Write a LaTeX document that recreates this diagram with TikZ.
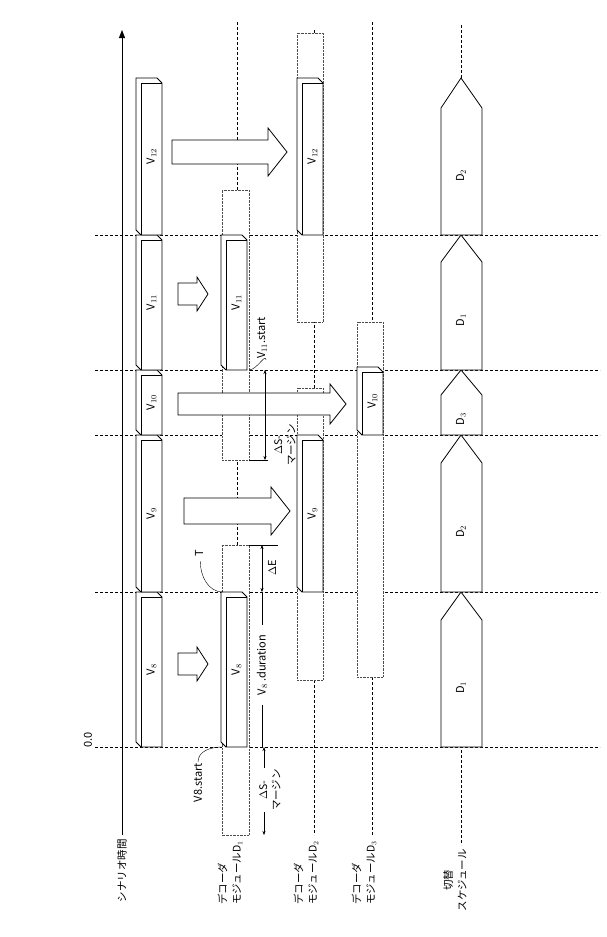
\documentclass[tikz,border=0pt]{standalone}
\usepackage{fontspec}
\setmainfont{Noto Sans CJK JP}
\usetikzlibrary{arrows.meta,positioning}
% bevelled bars: x, top, bottom, label
\newcommand\vbar[4]{%
	\draw[bar] (#1+5,#3) -- (#1,#3-5) -- (#1,#2) -- (#1+21,#2) -- (#1+26,#2+5) -- (#1+26,#3) -- cycle;
	\draw[thick] (#1+5,#3) -- (#1+5,#2+5) -- (#1+26,#2+5);
	\node[rotate=90] at (#1+15.5,{(#2+#3)/2}) {#4};}
% switching schedule: tip, bottom, shoulder, label
\newcommand\sched[4]{%
	\draw[thick,fill=white] (441,#2) -- (441,#3) -- (461,#1) -- (482,#3) -- (482,#2) -- cycle;
	\node[rotate=90] at (461,{(#2+#3)/2+4}) {#4};}
% hollow transfer arrow: x start, x head, x tip, y centre, half shaft, half head
\newcommand\blk[6]{%
	\draw[thick,fill=white] (#1,#4-#5) -- (#2,#4-#5) -- (#2,#4-#6) -- (#3,#4)
		-- (#2,#4+#6) -- (#2,#4+#5) -- (#1,#4+#5) -- cycle;}

\begin{document}
\begin{tikzpicture}[x=1pt,y=-1pt,
		every node/.style={font=\fontsize{11}{13}\selectfont,inner sep=1pt},
		grid/.style={densely dashed,thin},
		ghost/.style={densely dotted,thin,draw=black!70},
		bar/.style={thick,fill=white},
		lbl/.style={rotate=90,anchor=east,align=left,font=\fontsize{10.5}{14}\selectfont},
		dim/.style={{Stealth[length=4pt]}-{Stealth[length=4pt]},thin}
	]
	\useasboundingbox (0,0) rectangle (606,937);
	% time axis
	\draw[thick,-{Triangle[length=8pt,width=6pt]}] (122,835) -- (122,30);
	% horizontal time marks
	\foreach \y in {747,592,435,370,235}
		\draw[grid] (95,\y) -- (600,\y);
	% lanes
	\foreach \x/\t in {237/22,314/30,372/22}
		\draw[grid] (\x,\t) -- (\x,835);
	\draw[grid] (461,25) -- (461,845);
	% ghost (margin) boxes
	\draw[ghost,fill=white] (222,835) rectangle (249,545);
	\draw[ghost,fill=white] (222,460) rectangle (249,190);
	\draw[ghost,fill=white] (297,680) rectangle (323,388);
	\draw[ghost,fill=white] (297,322) rectangle (323,33);
	\draw[ghost,fill=white] (357,677) rectangle (383,322);
	\vbar{136}{592}{747}{V$_{8}$}
	\vbar{136}{435}{592}{V$_{9}$}
	\vbar{136}{370}{435}{V$_{10}$}
	\vbar{136}{235}{370}{V$_{11}$}
	\vbar{136}{78}{235}{V$_{12}$}
	\vbar{221}{592}{747}{V$_{8}$}
	\vbar{221}{235}{370}{V$_{11}$}
	\vbar{297}{435}{592}{V$_{9}$}
	\vbar{297}{78}{235}{V$_{12}$}
	\vbar{357}{367}{435}{V$_{10}$}
	\sched{592}{747}{620}{D$_{1}$}
	\sched{435}{592}{463}{D$_{2}$}
	\sched{370}{435}{395}{D$_{3}$}
	\sched{235}{370}{262}{D$_{1}$}
	\sched{78}{235}{108}{D$_{2}$}
	% transfer arrows
	\blk{178}{197}{208}{664}{11}{17}
	\blk{184}{271}{290}{511}{13}{24}
	\blk{178}{330}{346}{404}{11}{20}
	\blk{178}{197}{208}{294}{11}{17}
	\blk{172}{268}{287}{152}{12}{24}
	% annotations
	\node[rotate=90] (zero) at (88,740) {0.0};
	\node[rotate=90,anchor=east] (v8s) at (198,762) {V8.start};
	\draw (v8s.east) to[out=90,in=180] (222,747);
	\node[rotate=90] (tt) at (199,553) {T};
	\draw (tt.south) ++(-4,8) to[out=-90,in=180] (223,592);
	\node[rotate=90,anchor=west] (v11s) at (262,360) {V$_{11}$.start};
	\draw (v11s.south west) ++(-2,0) to[out=90,in=0] (249,370);
	\coordinate (m1) at (264,747);
	\coordinate (m2) at (264,835);
	\draw[dim] (m1) -- (m2);
	\node[rotate=90,fill=white,align=center,font=\fontsize{10.5}{13}\selectfont] at (270,790) {$\Delta$S-\\マージン};
	\draw[thin] (262,747) -- (262,705);
	\node[rotate=90,fill=white] at (262,665) {V$_{8}$ .duration};
	\draw[thin] (262,625) -- (262,592);
	\draw[dim] (262,592) -- (262,545);
	\draw[thin] (249,545) -- (278,545);
	\node[rotate=90,fill=white] at (272,568) {$\Delta$E};
	\draw[thin] (249,460) -- (268,460);
	\draw[dim] (265,460) -- (265,370);
	\node[rotate=90,align=center,font=\fontsize{10.5}{13}\selectfont] at (285,445) {$\Delta$S-\\マージン};
	% lane titles
	\node[lbl] at (122,838) {シナリオ時間};
	\node[lbl] at (230,840) {デコーダ\\モジュールD$_{1}$};
	\node[lbl] at (306,840) {デコーダ\\モジュールD$_{2}$};
	\node[lbl] at (364,840) {デコーダ\\モジュールD$_{3}$};
	\node[lbl,align=center] at (455,848) {切替\\スケジュール};
\end{tikzpicture}
\end{document}
